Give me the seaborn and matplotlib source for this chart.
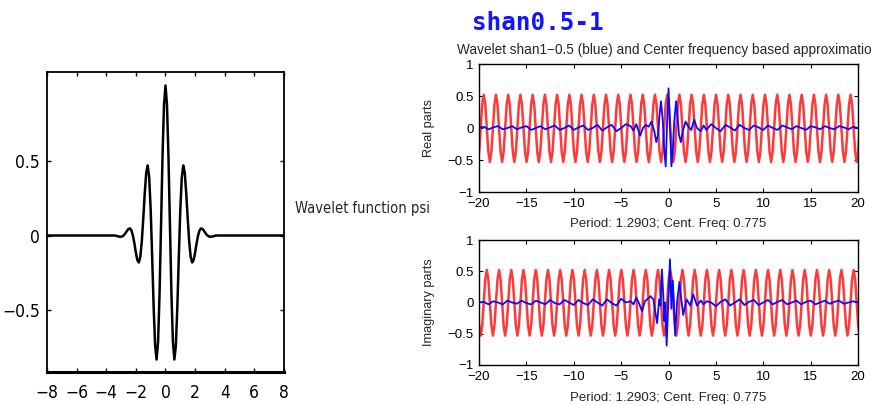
import numpy as np
import seaborn as sns
import matplotlib.pyplot as plt
from matplotlib import font_manager

# Left panel: wavelet function psi
psi_x = [-8.0,
         -3.4, -3.3, -3.2, -3.1, -3.0, -2.9, -2.8, -2.7, -2.6, -2.5, -2.4, -2.3,
         -2.2, -2.1, -2.0, -1.9, -1.8, -1.7, -1.6, -1.5, -1.4, -1.3, -1.2, -1.1,
         -1.0, -0.9, -0.8, -0.7, -0.6, -0.5, -0.4, -0.3, -0.2, -0.1, 0.0,
         0.1, 0.2, 0.3, 0.4, 0.5, 0.6, 0.7, 0.8, 0.9, 1.0, 1.1, 1.2, 1.3, 1.4,
         1.5, 1.6, 1.7, 1.8, 1.9, 2.0, 2.1, 2.2, 2.3, 2.4, 2.5, 2.6, 2.7, 2.8,
         2.9, 3.0, 3.1, 3.2, 3.3, 3.4,
         8.0]
psi_y = [0.0,
         0.0, -0.003, -0.006, -0.008, -0.008, -0.005, 0.003, 0.016, 0.031, 0.044,
         0.047, 0.034, 0.000, -0.052, -0.114, -0.164, -0.180, -0.142, -0.040,
         0.113, 0.283, 0.420, 0.467, 0.387, 0.172, -0.141, -0.475, -0.733, -0.827,
         -0.707, -0.384, 0.068, 0.530, 0.873, 1.000, 0.873, 0.530, 0.068, -0.384,
         -0.707, -0.827, -0.733, -0.475, -0.141, 0.172, 0.387, 0.467, 0.420,
         0.283, 0.113, -0.040, -0.142, -0.180, -0.164, -0.114, -0.052, 0.000,
         0.034, 0.047, 0.044, 0.031, 0.016, 0.003, -0.005, -0.008, -0.008,
         -0.006, -0.003, 0.0,
         0.0]

# Right panels: center frequency approximation (red), one cycle
period = 1.2903          # "Period: 1.2903; Cent. Freq: 0.775"
first_peak = -20.79      # a real-part peak just left of the axis
n_cycles = 33
red_real_cycle = [0.52, 0.37, 0.0, -0.37, -0.53, -0.37, 0.0, 0.37]
red_imag_cycle = [0.0, 0.37, 0.52, 0.37, 0.0, -0.37, -0.53, -0.37]

# shan wavelet (blue): flat tails sampled every 0.5, the burst around 0 in more detail
tail_left_x = [-20.0, -19.5, -19.0, -18.5, -18.0, -17.5, -17.0, -16.5, -16.0, -15.5,
               -15.0, -14.5, -14.0, -13.5, -13.0, -12.5, -12.0, -11.5, -11.0, -10.5,
               -10.0, -9.5, -9.0, -8.5, -8.0, -7.5, -7.0, -6.5, -6.0, -5.5, -5.0, -4.5]
tail_right_x = [4.5, 5.0, 5.5, 6.0, 6.5, 7.0, 7.5, 8.0, 8.5, 9.0, 9.5, 10.0, 10.5,
                11.0, 11.5, 12.0, 12.5, 13.0, 13.5, 14.0, 14.5, 15.0, 15.5, 16.0,
                16.5, 17.0, 17.5, 18.0, 18.5, 19.0, 19.5, 20.0]

real_left_y = [0.0, 0.02, -0.02, 0.01, 0.03, -0.02, 0.0, 0.03, -0.02, 0.01, 0.03,
               -0.03, 0.0, 0.03, -0.02, 0.01, 0.04, -0.03, 0.0, 0.04, -0.03, 0.01,
               0.04, -0.03, 0.0, 0.05, -0.04, 0.01, 0.05, -0.05, 0.0, 0.06]
real_mid_x = [-4.0, -3.7, -3.4, -3.0, -2.7, -2.4, -2.1, -1.8, -1.5, -1.3, -1.1, -0.95,
              -0.8, -0.6, -0.45, -0.3, -0.15, 0.0, 0.15, 0.3, 0.45, 0.6, 0.8, 0.95,
              1.1, 1.3, 1.5, 1.8, 2.1, 2.4, 2.7, 3.0, 3.4, 3.7, 4.0]
real_mid_y = [0.03, -0.04, 0.06, -0.12, 0.0, 0.05, 0.02, 0.10, -0.05, -0.22, -0.10,
              0.20, 0.42, 0.10, -0.35, -0.60, 0.10, 0.62, 0.10, -0.60, -0.35, 0.10,
              0.42, 0.20, -0.10, -0.22, -0.05, 0.10, 0.02, -0.03, 0.13, 0.0, -0.05,
              0.04, -0.03]
real_right_y = [0.06, 0.0, -0.05, 0.05, 0.01, -0.04, 0.05, 0.0, -0.03, 0.04, 0.01,
                -0.03, 0.04, 0.0, -0.03, 0.04, 0.01, -0.02, 0.03, 0.0, -0.03, 0.03,
                0.01, -0.02, 0.03, 0.0, -0.02, 0.03, 0.01, -0.02, 0.02, 0.0]

imag_left_y = [0.0, 0.01, -0.03, 0.02, 0.0, -0.03, 0.03, 0.0, -0.02, 0.03, -0.01,
               -0.03, 0.03, 0.0, -0.03, 0.04, -0.01, -0.03, 0.04, 0.0, -0.04, 0.04,
               -0.01, -0.04, 0.05, 0.0, -0.05, 0.05, -0.01, -0.05, 0.06, 0.0]
imag_mid_x = [-4.0, -3.7, -3.4, -3.1, -2.8, -2.5, -2.2, -1.9, -1.6, -1.4, -1.2, -1.0,
              -0.85, -0.7, -0.55, -0.45, -0.35, -0.2, 0.0, 0.15, 0.3, 0.45, 0.55, 0.7,
              0.9, 1.15, 1.35, 1.55, 1.9, 2.3, 2.6, 3.0, 3.4, 3.7, 4.0]
imag_mid_y = [0.02, -0.03, 0.08, -0.02, -0.14, 0.02, 0.06, 0.10, 0.05, -0.15, -0.33,
              0.05, -0.05, 0.53, 0.10, -0.30, 0.0, -0.69, 0.10, 0.69, -0.10, 0.35,
              0.05, -0.53, 0.0, 0.33, 0.05, -0.20, 0.05, -0.05, 0.13, -0.05, 0.03,
              -0.03, 0.02]
imag_right_y = [0.0, -0.06, 0.01, 0.05, -0.05, 0.0, 0.05, -0.04, 0.01, 0.04, -0.04,
                0.0, 0.04, -0.03, 0.01, 0.04, -0.03, 0.0, 0.03, -0.03, 0.01, 0.03,
                -0.03, 0.0, 0.03, -0.02, 0.01, 0.03, -0.02, 0.0, 0.02, 0.0]

period_label = 'Period: 1.2903; Cent. Freq: 0.775'

sns.set_style('white')
plt.rcParams['font.family'] = ['Liberation Sans', 'DejaVu Sans']
plt.rcParams.update({
    'xtick.direction': 'in', 'ytick.direction': 'in',
    'xtick.bottom': True, 'ytick.left': True,
    'xtick.top': True, 'ytick.right': True,
    'xtick.color': 'black', 'ytick.color': 'black',
    'axes.edgecolor': 'black',
})

# narrow font for the left panel, if a condensed face is around
cond = font_manager.FontProperties(family='DejaVu Sans', stretch='condensed')
if 'ondensed' in font_manager.findfont(cond, fallback_to_default=False):
    narrow = dict(family='DejaVu Sans', fontstretch='condensed')
    narrow_size, psi_size = 12.5, 10.5
else:
    narrow = dict(family='Liberation Sans')
    narrow_size, psi_size = 11.5, 10

fig = plt.figure(figsize=(8.77, 4.05), dpi=100)

# ---- left: psi
ax = fig.add_axes([0.0536, 0.0815, 0.2702, 0.7407])
sns.lineplot(x=psi_x, y=psi_y, ax=ax, color='black', lw=1.8,
             estimator=None, sort=False)
ax.set_xlim(-8, 8)
ax.set_ylim(-0.91, 1.09)
ax.set_xticks(range(-8, 9, 2))
ax.set_yticks([-0.5, 0, 0.5])
ax.set_yticklabels(['\u22120.5', '0', '0.5'])
ax.set_xticklabels(['\u22128', '\u22126', '\u22124', '\u22122', '0', '2', '4', '6', '8'])
ax.tick_params(length=3, width=1)
ax.tick_params(axis='x', pad=9)
ax.tick_params(axis='y', pad=5)
for lab in ax.get_xticklabels() + ax.get_yticklabels():
    lab.set(**narrow)
    lab.set_fontsize(narrow_size)
for side, sp in ax.spines.items():
    sp.set_linewidth(1.3)
ax.spines['bottom'].set_linewidth(2.2)

fig.text(0.413, 0.486, 'Wavelet function psi', fontsize=psi_size,
         ha='center', va='center', **narrow)

# ---- right: real and imaginary parts
fig.text(0.6135, 0.943, 'shan0.5-1', family=['DejaVu Sans Mono'], fontweight='bold',
         fontsize=17.5, color='#1414ff', ha='center', va='center')
fig.text(0.521, 0.876, 'Wavelet shan1\u22120.5 (blue) and Center frequency based approximatio',
         fontsize=9.8, ha='left', va='center')

red_x = first_peak + np.arange(8 * n_cycles) * period / 8
panels = [
    ([0.5462, 0.5259, 0.4322, 0.3160], 'Real parts', red_real_cycle,
     tail_left_x + real_mid_x + tail_right_x, real_left_y + real_mid_y + real_right_y, 0.447),
    ([0.5462, 0.0988, 0.4322, 0.3086], 'Imaginary parts', red_imag_cycle,
     tail_left_x + imag_mid_x + tail_right_x, imag_left_y + imag_mid_y + imag_right_y, 0.018),
]
for rect, ylab, cycle, bx, by, label_y in panels:
    a = fig.add_axes(rect)
    sns.lineplot(x=red_x, y=np.tile(cycle, n_cycles), ax=a, color='#ff3838',
                 lw=1.8, estimator=None, sort=False)
    sns.lineplot(x=bx, y=by, ax=a, color='#0a0aff', lw=1.3,
                 estimator=None, sort=False)
    a.set_xlim(-20, 20)
    a.set_ylim(-1, 1)
    a.set_xticks(range(-20, 21, 5))
    a.set_yticks([-1, -0.5, 0, 0.5, 1])
    a.set_xticklabels(['\u221220', '\u221215', '\u221210', '\u22125', '0', '5', '10', '15', '20'])
    a.set_yticklabels(['\u22121', '\u22120.5', '0', '0.5', '1'])
    a.tick_params(length=3, width=0.8, labelsize=9.5, pad=4)
    for sp in a.spines.values():
        sp.set_linewidth(1.0)
    a.set_ylabel(ylab, fontsize=9.2)
    a.yaxis.set_label_coords(-0.115, 0.5)
    fig.text(0.762, label_y, period_label, fontsize=9.5, ha='center', va='center')

fig.savefig('out.png', dpi=100)
